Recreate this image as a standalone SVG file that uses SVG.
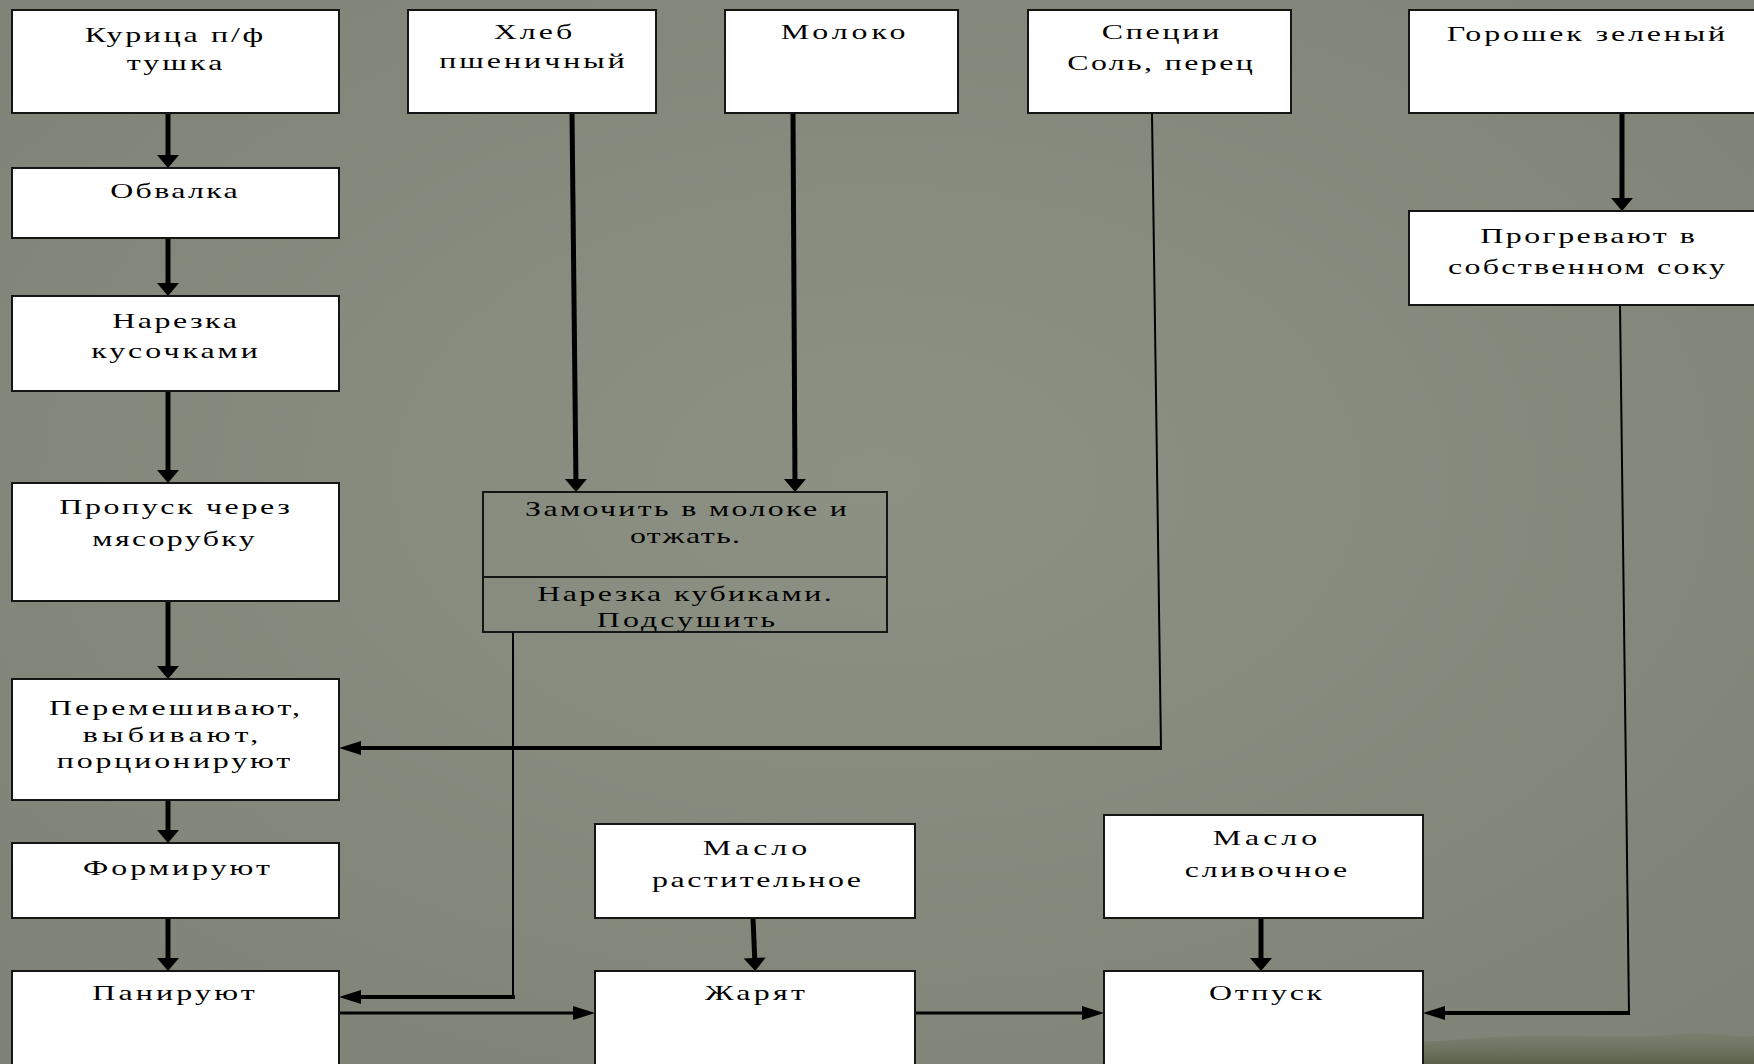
<svg xmlns="http://www.w3.org/2000/svg" width="1754" height="1064" viewBox="0 0 1754 1064">
<defs>
<radialGradient id="bg" cx="50%" cy="45%" r="75%">
<stop offset="0" stop-color="#8d9184"/>
<stop offset="1" stop-color="#7e8276"/>
</radialGradient>
<linearGradient id="grass" x1="0" y1="0" x2="0" y2="1">
<stop offset="0" stop-color="#5e6749" stop-opacity="0.15"/>
<stop offset="1" stop-color="#4a5436" stop-opacity="0.7"/>
</linearGradient>
<marker id="ad" markerUnits="userSpaceOnUse" markerWidth="13" markerHeight="22" refX="7" refY="11" orient="auto" overflow="visible">
<path d="M0,0 L13,11 L0,22 Z" fill="#000"/>
</marker>
<marker id="ah" markerUnits="userSpaceOnUse" markerWidth="22" markerHeight="14" refX="16" refY="7" orient="auto" overflow="visible">
<path d="M0,0 L22,7 L0,14 Z" fill="#000"/>
</marker>
<style>
.box{fill:#fff;stroke:#151515;stroke-width:2}
.obox{fill:none;stroke:#151515;stroke-width:2}
.t{font-family:"Liberation Serif","DejaVu Serif",serif;font-size:22px;fill:#000;text-anchor:middle}
.thick{fill:none;stroke:#000;stroke-width:5}
.hz{fill:none;stroke:#000;stroke-width:4}
.mid{fill:none;stroke:#000;stroke-width:3}
.thin{fill:none;stroke:#000;stroke-width:2}
.down{marker-end:url(#ad)}
.side{marker-end:url(#ah)}
</style>
</defs>
<rect x="0" y="0" width="1754" height="1064" fill="url(#bg)"/>
<path d="M1100,1064 C1170,1054 1240,1050 1300,1048 C1360,1040 1420,1044 1480,1038 C1550,1032 1620,1040 1680,1034 C1720,1032 1740,1038 1754,1036 L1754,1064 Z" fill="url(#grass)"/>

<g id="connectors">
<path class="thick down" d="M168,113 L168,162"/>
<path class="thick down" d="M168,238 L168,290"/>
<path class="thick down" d="M168,391 L168,477"/>
<path class="thick down" d="M168,601 L168,673"/>
<path class="thick down" d="M168,800 L168,837"/>
<path class="thick down" d="M168,918 L168,965"/>
<path class="thick down" d="M572,113 L576,486"/>
<path class="thick down" d="M793,113 L795,486"/>
<path class="thick down" d="M1622,113 L1622,205"/>
<path class="thick down" d="M753,918 L755,965"/>
<path class="thick down" d="M1261,918 L1261,965"/>
<path class="thin" d="M1152,113 L1161,749"/>
<path class="hz side" d="M1162,748 L345,748"/>
<path class="thin" d="M513,632 L513,998"/>
<path class="hz side" d="M515,997 L345,997"/>
<path class="mid side" d="M339,1013 L589,1013"/>
<path class="mid side" d="M915,1013 L1098,1013"/>
<path class="thin" d="M1620,305 L1629,1014"/>
<path class="hz side" d="M1630,1013 L1429,1013"/>
</g>

<g id="n-kurica"><rect class="box" x="12" y="10" width="327" height="103"/>
<text class="t" transform="translate(174 42) scale(1.45 1)" textLength="123" lengthAdjust="spacing">Курица п/ф</text>
<text class="t" transform="translate(174.5 70) scale(1.45 1)" textLength="66" lengthAdjust="spacing">тушка</text></g>

<g id="n-obvalka"><rect class="box" x="12" y="168" width="327" height="70"/>
<text class="t" transform="translate(174 198) scale(1.45 1)" textLength="88" lengthAdjust="spacing">Обвалка</text></g>

<g id="n-narezka"><rect class="box" x="12" y="296" width="327" height="95"/>
<text class="t" transform="translate(174.5 328) scale(1.45 1)" textLength="86" lengthAdjust="spacing">Нарезка</text>
<text class="t" transform="translate(174.5 358) scale(1.45 1)" textLength="115" lengthAdjust="spacing">кусочками</text></g>

<g id="n-propusk"><rect class="box" x="12" y="483" width="327" height="118"/>
<text class="t" transform="translate(174.5 514) scale(1.45 1)" textLength="159" lengthAdjust="spacing">Пропуск через</text>
<text class="t" transform="translate(173.5 546) scale(1.45 1)" textLength="112" lengthAdjust="spacing">мясорубку</text></g>

<g id="n-peremesh"><rect class="box" x="12" y="679" width="327" height="121"/>
<text class="t" transform="translate(174.5 715) scale(1.45 1)" textLength="173" lengthAdjust="spacing">Перемешивают,</text>
<text class="t" transform="translate(170.5 742) scale(1.45 1)" textLength="121" lengthAdjust="spacing">выбивают,</text>
<text class="t" transform="translate(173.5 768) scale(1.45 1)" textLength="161" lengthAdjust="spacing">порционируют</text></g>

<g id="n-formir"><rect class="box" x="12" y="843" width="327" height="75"/>
<text class="t" transform="translate(176.5 875) scale(1.45 1)" textLength="129" lengthAdjust="spacing">Формируют</text></g>

<g id="n-panir"><rect class="box" x="12" y="971" width="327" height="100"/>
<text class="t" transform="translate(173.5 1000) scale(1.45 1)" textLength="112" lengthAdjust="spacing">Панируют</text></g>

<g id="n-hleb"><rect class="box" x="408" y="10" width="248" height="103"/>
<text class="t" transform="translate(533 39) scale(1.45 1)" textLength="54" lengthAdjust="spacing">Хлеб</text>
<text class="t" transform="translate(532 68) scale(1.45 1)" textLength="128" lengthAdjust="spacing">пшеничный</text></g>

<g id="n-moloko"><rect class="box" x="725" y="10" width="233" height="103"/>
<text class="t" transform="translate(843 39) scale(1.45 1)" textLength="86" lengthAdjust="spacing">Молоко</text></g>

<g id="n-specii"><rect class="box" x="1028" y="10" width="263" height="103"/>
<text class="t" transform="translate(1160.5 39) scale(1.45 1)" textLength="81" lengthAdjust="spacing">Специи</text>
<text class="t" transform="translate(1160 70) scale(1.45 1)" textLength="128" lengthAdjust="spacing">Соль, перец</text></g>

<g id="n-goroshek"><rect class="box" x="1409" y="10" width="360" height="103"/>
<text class="t" transform="translate(1586 41) scale(1.45 1)" textLength="192" lengthAdjust="spacing">Горошек зеленый</text></g>

<g id="n-progrev"><rect class="box" x="1409" y="211" width="360" height="94"/>
<text class="t" transform="translate(1587.5 243) scale(1.45 1)" textLength="148" lengthAdjust="spacing">Прогревают в</text>
<text class="t" transform="translate(1586.5 274) scale(1.45 1)" textLength="191" lengthAdjust="spacing">собственном соку</text></g>

<g id="n-zamochit"><rect class="obox" x="483" y="492" width="404" height="140"/>
<line class="obox" x1="483" y1="577" x2="887" y2="577"/>
<text class="t" transform="translate(686 516) scale(1.45 1)" textLength="222" lengthAdjust="spacing">Замочить в молоке и</text>
<text class="t" transform="translate(685 543) scale(1.45 1)" textLength="76" lengthAdjust="spacing">отжать.</text>
<text class="t" transform="translate(684.5 601) scale(1.45 1)" textLength="203" lengthAdjust="spacing">Нарезка кубиками.</text>
<text class="t" transform="translate(686 627) scale(1.45 1)" textLength="123" lengthAdjust="spacing">Подсушить</text></g>

<g id="n-maslo-r"><rect class="box" x="595" y="824" width="320" height="94"/>
<text class="t" transform="translate(755 855) scale(1.45 1)" textLength="72" lengthAdjust="spacing">Масло</text>
<text class="t" transform="translate(756.5 887) scale(1.45 1)" textLength="144" lengthAdjust="spacing">растительное</text></g>

<g id="n-zharyat"><rect class="box" x="595" y="971" width="320" height="100"/>
<text class="t" transform="translate(755 1000) scale(1.45 1)" textLength="69" lengthAdjust="spacing">Жарят</text></g>

<g id="n-maslo-s"><rect class="box" x="1104" y="815" width="319" height="103"/>
<text class="t" transform="translate(1265 845) scale(1.45 1)" textLength="72" lengthAdjust="spacing">Масло</text>
<text class="t" transform="translate(1266 877) scale(1.45 1)" textLength="112" lengthAdjust="spacing">сливочное</text></g>

<g id="n-otpusk"><rect class="box" x="1104" y="971" width="319" height="100"/>
<text class="t" transform="translate(1265.5 1000) scale(1.45 1)" textLength="78" lengthAdjust="spacing">Отпуск</text></g>
</svg>
